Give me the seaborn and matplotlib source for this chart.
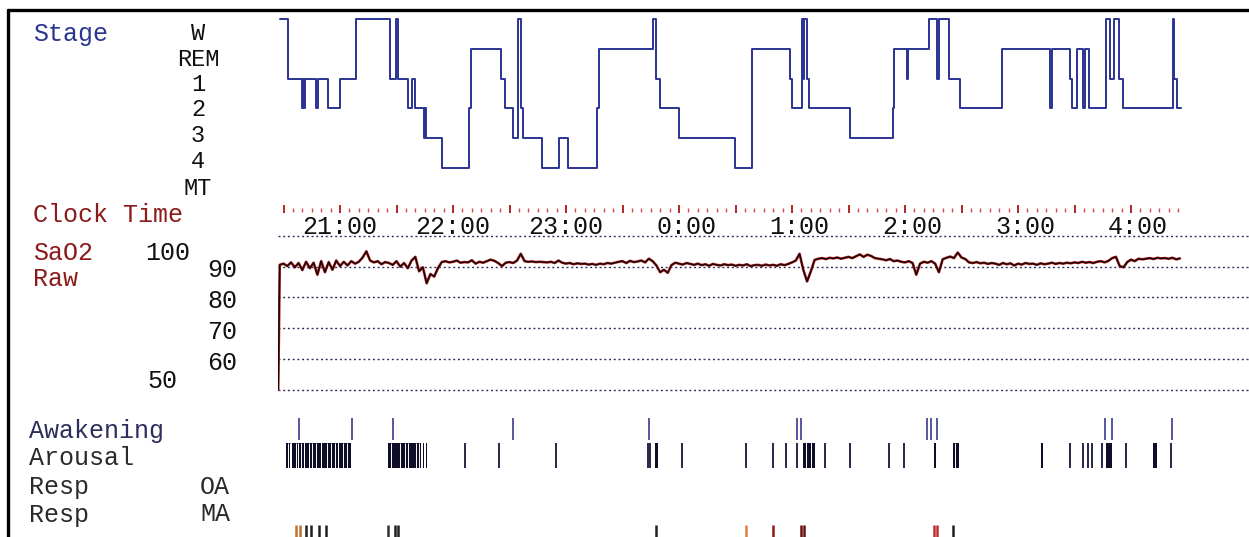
import numpy as np
import matplotlib
matplotlib.use("Agg")
import matplotlib.pyplot as plt
from matplotlib.lines import Line2D
import seaborn as sns

W_PX, H_PX = 1249, 537

# ── Data (times are minutes after 20:00) ─────────────────────────────────────
stage_names = ["W", "REM", "1", "2", "3", "4", "MT"]

hyp_start = [28.1, 32.5, 39.7, 40.3, 41.0, 41.5, 47.1, 48.2, 53.8, 60.0,
             68.5, 86.5, 89.7, 90.8, 95.9, 98.1, 99.8, 104.6, 105.0, 105.4,
             114.0, 128.5, 129.4, 145.5, 147.6, 152.0, 154.7, 155.9, 157.2, 167.0,
             176.3, 181.2, 196.3, 197.5, 226.0, 227.8, 229.9, 240.2, 269.8, 278.6,
             279.0, 299.0, 299.9, 305.2, 306.0, 306.6, 307.8, 309.1, 330.8, 353.8,
             354.2, 360.9, 361.5, 373.0, 376.9, 378.3, 383.6, 389.2, 411.7, 437.0,
             437.9, 447.6, 448.5, 451.5, 454.7, 455.6, 457.9, 466.8, 468.9, 471.0,
             473.8, 475.6, 502.5, 502.9, 504.6, 506.3]
hyp_stage = ["W", "1", "2", "1", "2", "1", "2", "1", "2", "1",
             "W", "1", "W", "1", "2", "1", "2", "3", "2", "3",
             "4", "2", "REM", "1", "2", "3", "W", "2", "3", "4",
             "3", "4", "2", "REM", "W", "1", "2", "3", "4", "2",
             "REM", "1", "2", "W", "1", "W", "1", "2", "3", "2",
             "REM", "1", "REM", "W", "1", "W", "1", "2", "REM", "2",
             "REM", "1", "2", "REM", "2", "REM", "2", "W", "1", "W",
             "1", "2", "W", "1", "2", "2"]

clock_labels = ["21:00", "22:00", "23:00", "0:00", "1:00", "2:00", "3:00", "4:00"]
clock_label_min = [60, 120, 180, 240, 300, 360, 420, 480]

sao2_time = np.r_[27.2, np.arange(28, 507, 2)]
sao2_value = [
    50.0,
    90.6, 91.0, 90.2, 91.4, 89.8, 91.2, 88.9, 91.6, 89.5, 91.3,
    87.4, 91.8, 88.2, 91.5, 89.0, 92.0, 90.2, 91.6, 90.4, 91.8,
    91.0, 91.6, 93.0, 95.0, 92.0, 91.4, 91.8, 90.8, 91.5, 91.2,
    90.6, 91.8, 90.0, 91.2, 89.5, 92.0, 93.2, 88.5, 89.8, 84.6,
    87.6, 86.8, 89.5, 91.5, 91.8, 91.4, 91.6, 92.0, 91.3, 91.5,
    91.4, 92.1, 91.0, 91.6, 91.3, 91.8, 92.3, 91.9, 91.2, 90.2,
    91.3, 91.5, 91.2, 92.0, 94.2, 91.8, 91.6, 91.7, 91.5, 91.6,
    91.5, 91.4, 91.6, 91.2, 92.0, 91.3, 91.0, 91.2, 90.8, 91.1,
    90.9, 91.0, 90.7, 90.9, 90.6, 91.0, 90.8, 91.2, 91.0, 91.3,
    91.6, 91.8, 91.2, 91.9, 91.5, 91.7, 92.0, 91.4, 92.6, 91.8,
    90.4, 88.2, 89.0, 88.0, 90.5, 91.3, 91.0, 90.7, 91.2, 90.9,
    90.6, 91.0, 90.5, 90.8, 90.3, 90.9, 90.6, 90.4, 90.8, 90.5,
    90.7, 90.3, 90.6, 90.4, 90.8, 90.2, 90.5, 90.6, 90.3, 90.7,
    90.4, 90.6, 90.3, 90.8, 90.5, 90.9, 91.4, 92.0, 94.2, 89.0,
    85.2, 88.5, 92.2, 92.6, 92.8, 92.5, 92.9, 92.7, 93.0, 92.6,
    92.9, 93.2, 92.8, 93.4, 94.0, 93.2, 93.9, 93.5, 92.8, 92.6,
    92.4, 92.1, 92.5, 91.8, 92.0, 91.6, 91.4, 91.8, 91.2, 87.4,
    91.0, 91.6, 91.3, 91.8, 91.0, 88.2, 92.4, 92.9, 93.3, 92.8,
    94.6, 93.0, 92.5, 91.4, 91.2, 91.5, 91.1, 91.3, 90.9, 91.2,
    91.0, 90.6, 91.2, 90.8, 91.1, 90.4, 91.0, 90.7, 91.2, 90.9,
    91.0, 90.6, 91.1, 90.8, 91.0, 91.3, 90.9, 91.2, 91.0, 91.3,
    91.1, 91.4, 91.2, 91.6, 91.3, 91.5, 91.2, 91.6, 91.8, 91.4,
    91.9, 92.8, 93.2, 90.2, 89.8, 91.5, 92.3, 91.8, 92.6, 92.4,
    92.6, 92.8, 92.5, 92.9, 92.7, 92.8, 92.6, 92.9, 92.4, 92.7,
]
sao2_grid = [50, 60, 70, 80, 90, 100]

awakening_min = [38.2, 66.4, 88.1, 151.9, 224.3, 302.9, 305.0, 371.7, 373.8,
                 377.0, 466.1, 469.9, 501.8]

arousal_start = [31.3, 34.5, 41.4, 50.4, 59.5, 85.5, 89.8, 98.3, 104.1, 105.7,
                 107.0, 227.3, 306.1, 307.9, 310.6, 375.4, 385.5, 432.0, 466.7,
                 491.9]
arousal_end = [34.2, 41.1, 50.1, 59.2, 65.8, 89.5, 98.0, 103.2, 104.6, 106.2,
               107.5, 228.9, 307.6, 310.3, 312.2, 376.5, 388.7, 433.3, 469.9,
               493.8]
arousal_gap = [32.3, 33.2, 36.4, 37.9, 39.3, 43.4, 45.1, 47.3, 52.9, 55.4,
               57.1, 61.7, 63.6, 87.0, 92.1, 94.4, 96.3, 100.6, 102.1, 386.8]
arousal_single = [126.4, 144.4, 174.7, 223.5, 224.6, 241.6, 275.8, 289.9,
                  296.8, 302.9, 317.5, 330.8, 351.5, 359.5, 447.6, 454.3,
                  457.1, 459.3, 464.6, 477.3, 501.3]

resp_ma_min = [36.6, 38.8, 42.0, 44.5, 49.0, 52.5, 85.5, 89.0, 91.0, 227.8,
               275.8, 289.9, 305.0, 306.5, 375.4, 377.0, 385.5]
resp_ma_color = ["#c07030", "#c07030", "#202020", "#202020", "#202020", "#202020",
                 "#303030", "#202020", "#202020", "#202020", "#e08040", "#8a1a1a",
                 "#6a1010", "#6a1010", "#c03030", "#c03030", "#202020"]

# ── Layout helpers ───────────────────────────────────────────────────────────
X_MIN = 60 + (278 - 340) * 60 / 113
X_MAX = 60 + (W_PX - 340) * 60 / 113


def px_axes(fig, top, bottom):
    return fig.add_axes([278 / W_PX, 1 - bottom / H_PX, (W_PX - 278) / W_PX,
                         (bottom - top) / H_PX])


def ftext(fig, x, y, s, **kw):
    kw.setdefault("va", "center")
    kw.setdefault("fontsize", 18)
    fig.text(x / W_PX, 1 - y / H_PX, s, **kw)


sns.set_style("white")
plt.rcParams["font.family"] = ["Liberation Mono", "DejaVu Sans Mono"]

fig = plt.figure(figsize=(W_PX / 100, H_PX / 100), dpi=100)
fig.patch.set_facecolor("white")

# ── Hypnogram ────────────────────────────────────────────────────────────────
ax_h = px_axes(fig, 10, 195)
stage_idx = [stage_names.index(s) for s in hyp_stage]
sns.lineplot(x=hyp_start, y=stage_idx, drawstyle="steps-post", estimator=None,
             sort=False, color="#2b3394", lw=1.4, ax=ax_h)
ax_h.set_xlim(X_MIN, X_MAX)
ax_h.set_ylim((195 - 19) / 29.8, (10 - 19) / 29.8)
ax_h.axis("off")

# ── SaO2 trace ───────────────────────────────────────────────────────────────
ax_s = px_axes(fig, 230, 395)
ax_s.set_yticks(sao2_grid)
ax_s.grid(axis="y", color="#2a2a5a", linestyle=(0, (1.4, 2.0)), lw=1.0)
ax_s.grid(axis="x", visible=False)
sns.lineplot(x=sao2_time, y=sao2_value, estimator=None, sort=False,
             color="#b52222", lw=1.9, ax=ax_s)
sns.lineplot(x=sao2_time, y=sao2_value, estimator=None, sort=False,
             color="#140404", lw=1.0, ax=ax_s)
ax_s.set_xlim(X_MIN, X_MAX)
ax_s.set_ylim(50 - 5.5 / 3.07, 100 + 6 / 3.07)
ax_s.set_xticks([])
ax_s.tick_params(left=False, labelleft=False)
for sp in ax_s.spines.values():
    sp.set_visible(False)

# ── Overlay: clock ticks and event rows (y in pixels) ────────────────────────
ax_o = px_axes(fig, 0, H_PX)
ax_o.set_xlim(X_MIN, X_MAX)
ax_o.set_ylim(H_PX, 0)
ax_o.axis("off")
ax_o.patch.set_alpha(0)

ticks = np.arange(30, 506, 5)
minor = ticks[ticks % 30 != 0]
major = ticks[ticks % 30 == 0]
ax_o.vlines(minor, 207.5, 211.5, color="#d04848", lw=1.0)
ax_o.vlines(major, 205.0, 212.5, color="#b02828", lw=1.4)
for m, lab in zip(clock_label_min, clock_labels):
    ax_o.text(m + 19.7, 227, lab, ha="right", va="center", fontsize=18,
              color="#111111")

ax_o.vlines(awakening_min, 418, 440, color="#3a3a8c", lw=1.2)
ax_o.broken_barh(list(zip(arousal_start, np.subtract(arousal_end, arousal_start))),
                 (443, 25), facecolor="#0e0e28", edgecolor="none")
ax_o.vlines(arousal_gap, 443, 468, color="white", lw=0.7)
ax_o.vlines(arousal_single, 443, 468, color="#15153a", lw=1.3)
ax_o.vlines(resp_ma_min, 525, 537, colors=resp_ma_color, lw=1.8)

# ── Labels ───────────────────────────────────────────────────────────────────
ftext(fig, 33, 34, "Stage", color="#2a3590")
for name, y in zip(stage_names, [34, 60, 84, 110, 136, 161, 188]):
    ftext(fig, 198, y, name, ha="center", color="#111111", fontsize=17)
ftext(fig, 33, 215, "Clock Time", color="#8b1a1a")
ftext(fig, 33, 253, "SaO2", color="#8b1a1a")
ftext(fig, 33, 279, "Raw", color="#8b1a1a")
ftext(fig, 145, 253, "100", color="#111111")
ftext(fig, 147, 381, "50", color="#111111")
for lab, y in zip(["90", "80", "70", "60"], [270, 301, 332, 363]):
    ftext(fig, 207, y, lab, color="#111111")
ftext(fig, 29, 431, "Awakening", color="#2e2e5e")
ftext(fig, 29, 458, "Arousal", color="#2a2a2a")
ftext(fig, 29, 487, "Resp", color="#2a2a2a")
ftext(fig, 200, 487, "OA", color="#2a2a2a")
ftext(fig, 29, 515, "Resp", color="#2a2a2a")
ftext(fig, 200, 514, "MA", color="#2a2a2a")

# ── Frame (top and left border) ──────────────────────────────────────────────
fig.add_artist(Line2D([8 / W_PX, 1], [1 - 10 / H_PX] * 2, color="black", lw=2.4))
fig.add_artist(Line2D([8 / W_PX] * 2, [0, 1 - 10 / H_PX], color="black", lw=2.4))

fig.savefig("out.png", dpi=100)
plt.close(fig)
